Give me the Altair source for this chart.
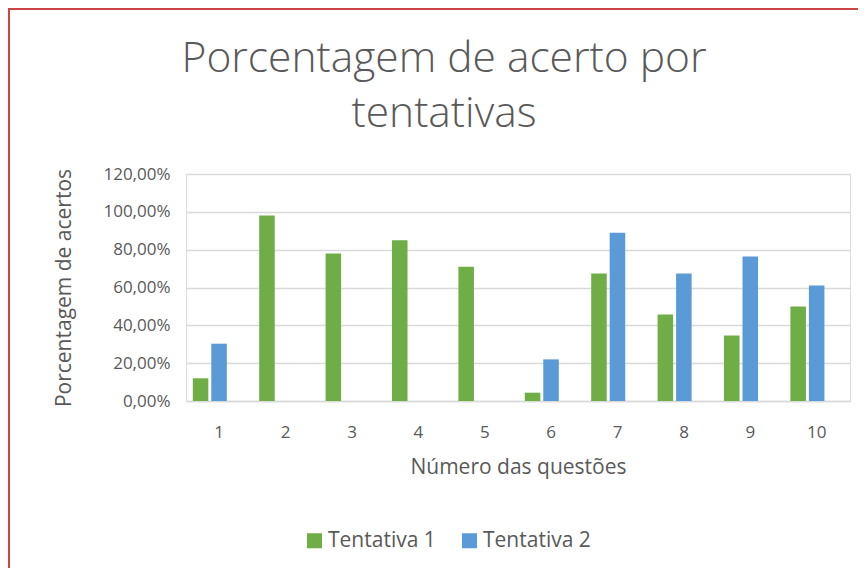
import altair as alt
import pandas as pd

questions = ["1", "2", "3", "4", "5", "6", "7", "8", "9", "10"]
tentativa_1 = [12.0, 98.0, 78.0, 85.0, 71.0, 4.4, 67.4, 45.7, 34.6, 50.0]
tentativa_2 = [30.3, None, None, None, None, 22.0, 89.0, 67.4, 76.4, 61.0]
series = ["Tentativa 1", "Tentativa 2"]
y_ticks = [0, 20, 40, 60, 80, 100, 120]
colors = ["#6fad46", "#5a9ad6"]
title_lines = ["Porcentagem de acerto por", "tentativas"]

rows = []
for q, a, b in zip(questions, tentativa_1, tentativa_2):
    rows.append({"q": q, "s": series[0], "v": a})
    if b is not None:
        rows.append({"q": q, "s": series[1], "v": b})
df = pd.DataFrame(rows)

TXT = "#595959"
FONT = "Open Sans"

bars = alt.Chart(df).mark_bar().encode(
    x=alt.X("q:N", sort=questions,
            scale=alt.Scale(paddingInner=0, paddingOuter=0),
            axis=alt.Axis(title="Número das questões", labelAngle=0, ticks=False,
                          labelPadding=23, titlePadding=16, labelFontSize=17,
                          titleFontSize=21, labelColor=TXT, titleColor=TXT,
                          labelFont=FONT, titleFont=FONT, titleFontWeight="normal",
                          domainColor="#d9d9d9", domainWidth=1.5, grid=False)),
    xOffset=alt.XOffset("s:N", sort=series,
                        scale=alt.Scale(domain=series, paddingInner=0.16,
                                        paddingOuter=0.875, align=0.21)),
    y=alt.Y("v:Q", scale=alt.Scale(domain=[0, 120]),
            axis=alt.Axis(values=y_ticks, title="Porcentagem de acertos",
                          labelExpr="replace(format(datum.value, '.2f'), '.', ',') + '%'",
                          ticks=False, domain=False, labelPadding=16, titlePadding=28,
                          labelFontSize=17, titleFontSize=21, labelColor=TXT,
                          titleColor=TXT, labelFont=FONT, titleFont=FONT,
                          titleFontWeight="normal", gridColor="#d9d9d9", gridWidth=1.5)),
    color=alt.Color("s:N", scale=alt.Scale(domain=series, range=colors),
                    legend=alt.Legend(title=None, orient="none", direction="horizontal",
                                      legendX=118, legendY=356, symbolType="square",
                                      symbolSize=225, symbolStrokeWidth=0,
                                      labelFontSize=21, labelColor=TXT, labelFont=FONT,
                                      columnPadding=23, labelOffset=3)),
)

title = alt.Chart(pd.DataFrame({"t": [0]})).mark_text(
    text=title_lines, font=FONT, fontSize=42.5, fontWeight=300, color=TXT,
    align="center", baseline="alphabetic", lineHeight=55,
).encode(x=alt.value(258), y=alt.value(-102))

border_top = alt.Chart(df).mark_rule(color="#cc4444", strokeWidth=2).encode(
    x=alt.value(-178), x2=alt.value(680), y=alt.value(-165))
border_left = alt.Chart(df).mark_rule(color="#cc4444", strokeWidth=2).encode(
    x=alt.value(-177), y=alt.value(-166), y2=alt.value(400))

chart = alt.layer(bars, title, border_top, border_left).properties(
    width=664, height=227,
    padding={"left": 178, "top": 166, "right": 8, "bottom": 167},
    autosize=alt.AutoSizeParams(type="none"),
).configure_view(stroke=None).configure(background="white")

chart.save("out.html", embed_options={"renderer": "svg", "actions": False})
